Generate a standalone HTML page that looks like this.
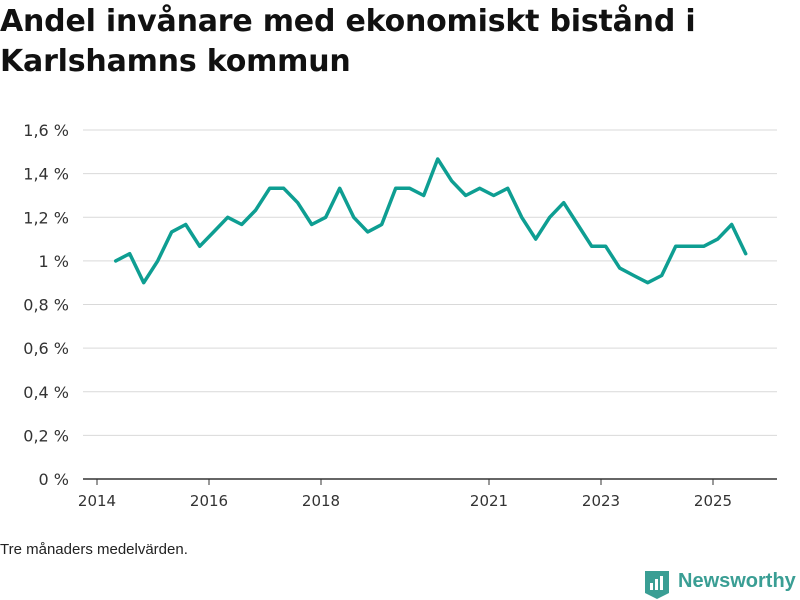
<!DOCTYPE html>
<html><head><meta charset="utf-8"><style>
body{margin:0;background:#fff;font-family:"Liberation Sans",sans-serif;}
#wrap{position:relative;width:800px;height:600px;overflow:hidden;}
h1{position:absolute;left:0;top:2px;margin:0;font-family:"DejaVu Sans",sans-serif;font-size:30px;line-height:40px;font-weight:bold;color:#111;letter-spacing:-0.2px;}
.note{position:absolute;left:0;top:541px;font-size:15px;color:#222;}
.logo{position:absolute;left:678px;top:570px;font-size:20px;font-weight:bold;color:#3a9e94;}
</style></head><body>
<div id="wrap">
<h1>Andel invånare med ekonomiskt bistånd i<br>Karlshamns kommun</h1>
<svg id="chart" width="800" height="600" style="position:absolute;left:0;top:0"></svg>
<div class="note">Tre månaders medelvärden.</div>
<svg width="24" height="28" style="position:absolute;left:645px;top:571px">
<path d="M0 0H24V22L12 28L0 22Z" fill="#3a9e94"/>
<rect x="5" y="12" width="3" height="7" fill="#fff"/><rect x="10" y="8" width="3" height="11" fill="#fff"/><rect x="15" y="5" width="3" height="14" fill="#fff"/>
</svg>
<div class="logo">Newsworthy</div>
</div>
<script>
const values=[1.0,1.033,0.9,1.0,1.133,1.167,1.067,1.133,1.2,1.167,1.233,1.333,1.333,1.267,1.167,1.2,1.333,1.2,1.133,1.167,1.333,1.333,1.3,1.467,1.367,1.3,1.333,1.3,1.333,1.2,1.1,1.2,1.267,1.167,1.067,1.067,0.967,0.933,0.9,0.933,1.067,1.067,1.067,1.1,1.167,1.033];
const startYear=2014, startMonth=5;
const yTicks=[0,0.2,0.4,0.6,0.8,1.0,1.2,1.4,1.6];
const yTickLabels=["0 %","0,2 %","0,4 %","0,6 %","0,8 %","1 %","1,2 %","1,4 %","1,6 %"];
const xTicks=[2014,2016,2018,2021,2023,2025];
const svg=document.getElementById('chart');
const NS='http://www.w3.org/2000/svg';
const x=t=>97+(t-2014)*56;
const y=v=>479-v*218.1;
function el(tag,attrs){const e=document.createElementNS(NS,tag);for(const k in attrs)e.setAttribute(k,attrs[k]);svg.appendChild(e);return e;}
yTicks.forEach((v,i)=>{
  const g=el('line',{x1:83,x2:777,y1:y(v),y2:y(v),stroke:v===0?'#333':'#d9d9d9','stroke-width':v===0?1.5:1});
  
  
  const t=el('text',{x:69,y:y(v)+6,'text-anchor':'end','font-size':16,fill:'#333','font-family':'DejaVu Sans, sans-serif'});
  t.textContent=yTickLabels[i];
  
  
});
xTicks.forEach(yr=>{
  const tk=el('line',{x1:x(yr),x2:x(yr),y1:479,y2:485,stroke:'#333'});
  
  
  const t=el('text',{x:x(yr),y:506,'text-anchor':'middle','font-size':15,fill:'#333','font-family':'DejaVu Sans, sans-serif'});
  t.textContent=yr;
  
  
});
const pts=values.map((v,i)=>{const m=startMonth-1+i*3;const t=startYear+m/12;return x(t).toFixed(1)+','+y(v).toFixed(1);});
const line=el('polyline',{points:pts.join(' '),fill:'none',stroke:'#0e9e92','stroke-width':3.5,'stroke-linejoin':'round','stroke-linecap':'round'});


</script>
</body></html>
